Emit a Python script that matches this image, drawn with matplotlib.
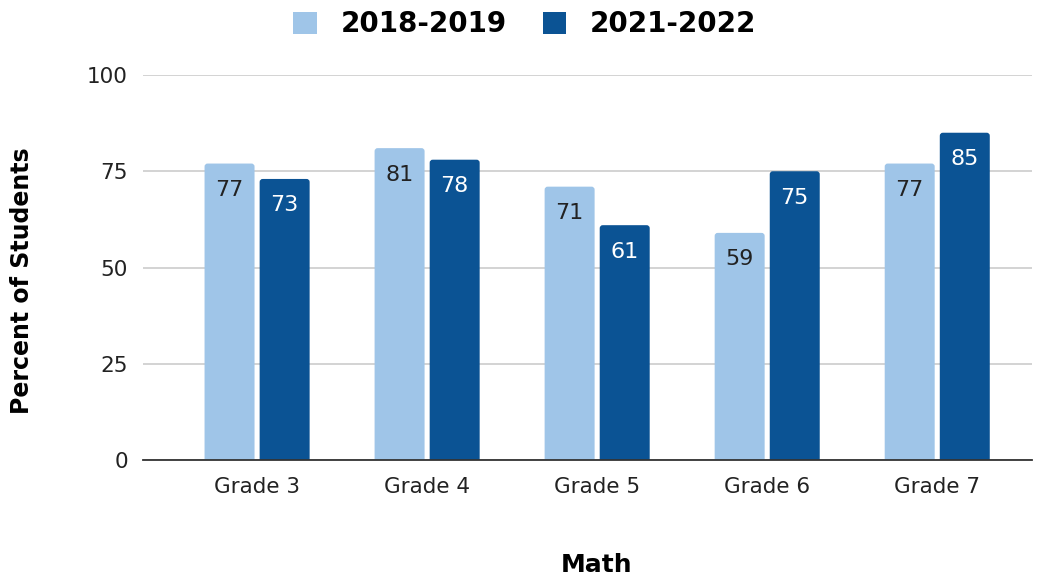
import numpy as np
import matplotlib
matplotlib.use("Agg")
import matplotlib.pyplot as plt
from matplotlib.patches import FancyBboxPatch, Patch

grades = ["Grade 3", "Grade 4", "Grade 5", "Grade 6", "Grade 7"]
y2018 = [77, 81, 71, 59, 77]
y2022 = [73, 78, 61, 75, 85]
series_names = ["2018-2019", "2021-2022"]
yticks = [0, 25, 50, 75, 100]

light = "#9fc5e8"
dark = "#0b5394"

plt.rcParams["font.family"] = ["DejaVu Sans"]

fig = plt.figure(figsize=(10.45, 5.81), dpi=100)
ax = fig.add_axes([0.137, 0.208, 0.851, 0.663])

x = np.arange(len(grades))
w = 0.294
off = 0.162
b1 = ax.bar(x - off, y2018, w, color=light)
b2 = ax.bar(x + off, y2022, w, color=dark)

# swap plain rects for ones with slightly rounded tops
for bars in (b1, b2):
    for r in bars:
        r.set_visible(False)
        p = FancyBboxPatch((r.get_x(), -4), r.get_width(), r.get_height() + 4,
                           boxstyle="round,pad=0,rounding_size=0.018",
                           mutation_aspect=44, facecolor=r.get_facecolor(),
                           edgecolor="none", zorder=2)
        ax.add_patch(p)

for xs, vals, col in ((x - off, y2018, "#222222"), (x + off, y2022, "white")):
    for xi, v in zip(xs, vals):
        ax.annotate(str(v), xy=(xi, v), xytext=(0, -19), textcoords="offset points",
                    ha="center", va="center", fontsize=16, color=col, zorder=3)

ax.set_xlim(-0.67, 4.56)
ax.set_ylim(0, 100)
ax.set_yticks(yticks)
ax.set_xticks(x)
ax.set_xticklabels(grades)
ax.tick_params(axis="both", length=0, labelsize=15.5, colors="#222222")
ax.tick_params(axis="y", pad=11)
ax.tick_params(axis="x", pad=12)
ax.yaxis.grid(True, color="#cccccc", linewidth=1.2)
ax.set_axisbelow(True)
for s in ["top", "right", "left"]:
    ax.spines[s].set_visible(False)
ax.spines["bottom"].set_color("#333333")
ax.spines["bottom"].set_linewidth(1.3)
ax.spines["bottom"].set_zorder(4)

fig.text(0.571, 0.028, "Math", ha="center", va="center",
         fontsize=18, fontweight="bold")
fig.text(0.021, 0.517, "Percent of Students", rotation=90, ha="center", va="center",
         fontsize=17, fontweight="bold")

handles = [Patch(facecolor=light), Patch(facecolor=dark)]
fig.legend(handles=handles, labels=series_names, loc="upper center",
           bbox_to_anchor=(0.502, 1.025), ncol=2, frameon=False,
           prop={"size": 20, "weight": "bold"}, handlelength=0.85, handleheight=0.85,
           columnspacing=1.3, handletextpad=0.85)

fig.savefig("out.png", dpi=100, facecolor="white")
